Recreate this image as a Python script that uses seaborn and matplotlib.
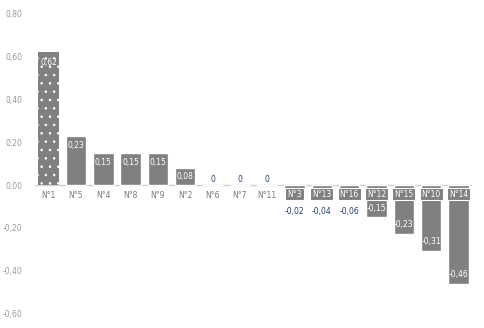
import numpy as np
import pandas as pd
import seaborn as sns
import matplotlib.pyplot as plt

categories = ["N°1", "N°5", "N°4", "N°8", "N°9", "N°2", "N°6", "N°7", "N°11",
              "N°3", "N°13", "N°16", "N°12", "N°15", "N°10", "N°14"]
values = [0.62, 0.23, 0.15, 0.15, 0.15, 0.08, 0, 0, 0,
          -0.02, -0.04, -0.06, -0.15, -0.23, -0.31, -0.46]
yticks = [0.8, 0.6, 0.4, 0.2, 0.0, -0.2, -0.4, -0.6]

df = pd.DataFrame({"cat": categories, "val": values})

sns.set_style("white")
plt.rcParams["font.family"] = ["DejaVu Sans"]
plt.rcParams["hatch.linewidth"] = 0.6

bar_gray = "#808080"
blue = "#1f3f73"
text_gray = "#999999"

fig = plt.figure(figsize=(4.84, 3.28), dpi=100)
ax = fig.add_axes([0.0723, 0.0436, 0.903, 0.9155])

sns.barplot(data=df, x="cat", y="val", order=categories, color=bar_gray,
            saturation=1, width=0.75, ax=ax)

# dotted pattern on the first bar
first = ax.patches[0]
first.set_hatch("..")
first.set_edgecolor("white")
first.set_linewidth(0)

ax.axhline(0, color="#d0d0d0", lw=1, zorder=0)
ax.set_xlim(-0.5, len(categories) - 0.5)
ax.set_ylim(-0.6, 0.8)
ax.set_yticks(yticks)
ax.set_yticklabels([f"{t:.2f}".replace(".", ",") for t in yticks])
ax.tick_params(axis="y", length=0, pad=9, labelsize=5.5, labelcolor=text_gray)
ax.set_xticks([])
ax.set_xlabel("")
ax.set_ylabel("")
sns.despine(ax=ax, left=True, bottom=True)


def fmt(v):
    if v == 0:
        return "0"
    return f"{v:.2f}".replace(".", ",")


for i, (c, v) in enumerate(zip(categories, values)):
    if v > 0:
        ax.text(i, max(v - 0.047, v / 2), fmt(v), ha="center", va="center",
                color="white", fontsize=5.5)
        ax.text(i, -0.051, c, ha="center", va="center", color="#777777", fontsize=5.5)
    elif v == 0:
        ax.text(i, 0.028, fmt(v), ha="center", va="center", color=blue, fontsize=5.5)
        ax.text(i, -0.051, c, ha="center", va="center", color="#777777", fontsize=5.5)
    else:
        ax.text(i, -0.042, c, ha="center", va="center", color="white", fontsize=5.5,
                bbox=dict(boxstyle="square,pad=0.25", facecolor=bar_gray,
                          edgecolor="white", linewidth=0.8))
        if v > -0.1:
            ax.text(i, -0.125, fmt(v), ha="center", va="center", color=blue, fontsize=5.5)
        else:
            ax.text(i, min(v + 0.045, -0.11), fmt(v), ha="center", va="center",
                    color="white", fontsize=5.5)

fig.savefig("out.png", dpi=100)
